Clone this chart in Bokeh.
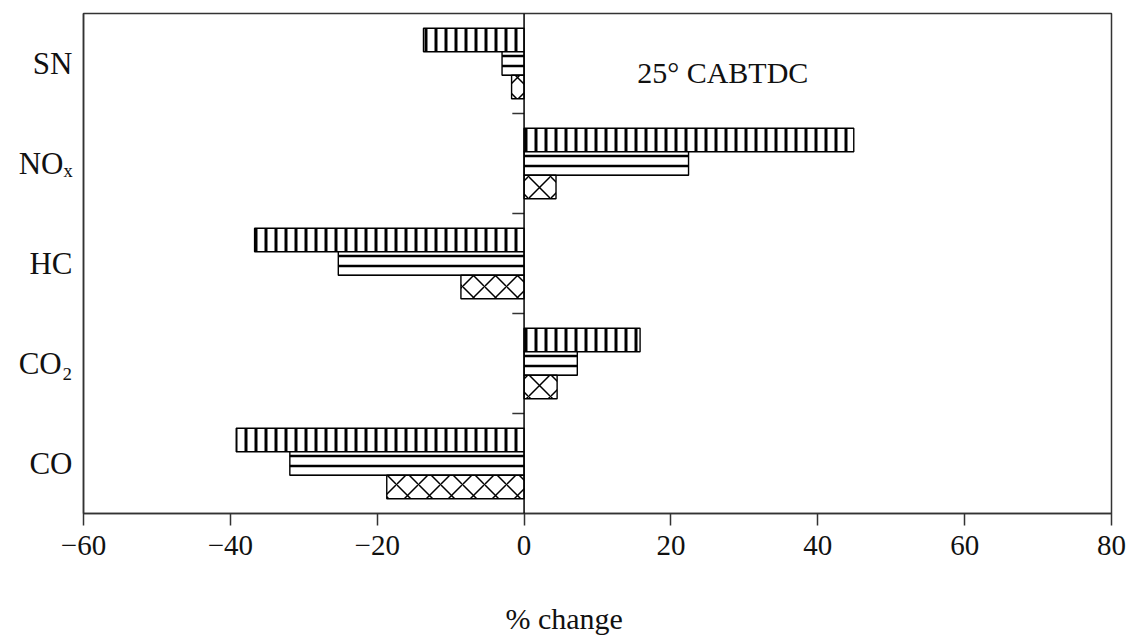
import numpy as np
from bokeh.plotting import figure
from bokeh.models import FixedTicker, Span, Label, Title
from bokeh.embed import file_html
from bokeh.resources import INLINE

# ---- data ----
categories = ["CO", "CO₂", "HC", "NOₓ", "SN"]
series_vertical = [-39.2, 15.8, -36.7, 44.9, -13.7]    # top bar of each group
series_horizontal = [-31.9, 7.25, -25.3, 22.4, -3.0]   # middle bar
series_cross = [-18.7, 4.5, -8.6, 4.35, -1.7]          # bottom bar
x_ticks = [-60, -40, -20, 0, 20, 40, 60, 80]
x_tick_labels = ["−60", "−40", "−20", "0", "20", "40", "60", "80"]
annotation_text = "25° CABTDC"
x_label = "% change"

FONT = "Liberation Serif"

pos = np.arange(len(categories)) + 0.5
bounds = np.arange(1, len(categories))

p = figure(width=1132, height=636, x_range=(-60, 80), y_range=(0, len(categories)),
           output_backend="svg", toolbar_location=None,
           min_border_left=83, min_border_right=21, min_border_top=13, min_border_bottom=123)
p.background_fill_color = "white"
p.border_fill_color = "white"
p.grid.visible = False
p.outline_line_color = "#333333"
p.outline_line_width = 1.5

bar_h = 0.235
common = dict(left=0, height=bar_h, fill_color="white", line_color="black",
              line_width=1.4, hatch_color="black")
p.hbar(y=pos + bar_h, right=series_vertical, hatch_pattern="vertical_line",
       hatch_scale=10, hatch_weight=3, **common)
p.hbar(y=pos, right=series_horizontal, hatch_pattern="horizontal_line",
       hatch_scale=10, hatch_weight=2.5, **common)
p.hbar(y=pos - bar_h, right=series_cross, hatch_pattern="diagonal_cross",
       hatch_scale=22, hatch_weight=1.5, **common)

# zero line and small category-boundary ticks on it
p.add_layout(Span(location=0, dimension="height", line_color="black", line_width=1.5))
p.segment(x0=-1.6, x1=0, y0=bounds, y1=bounds, line_color="#333333", line_width=1.5)

# x axis
xa = p.xaxis[0]
xa.ticker = FixedTicker(ticks=x_ticks)
xa.major_label_overrides = {t: l for t, l in zip(x_ticks, x_tick_labels)}
xa.minor_tick_line_color = None
xa.major_tick_in = 0
xa.major_tick_out = 12
xa.major_tick_line_width = 1.5
xa.major_tick_line_color = "#333333"
xa.axis_line_color = "#333333"
xa.axis_line_width = 1.5
xa.major_label_text_font = FONT
xa.major_label_text_font_size = "29px"
xa.major_label_text_color = "#111111"
xa.major_label_standoff = 10
# invisible spacer label: reserves the gap between tick labels and the axis title
xa.axis_label = " "
xa.axis_label_text_font_size = "1px"
xa.axis_label_standoff = 38

# y axis
ya = p.yaxis[0]
ya.ticker = FixedTicker(ticks=list(pos))
ya.major_label_overrides = {float(v): c for v, c in zip(pos, categories)}
ya.minor_tick_line_color = None
ya.major_tick_in = 0
ya.major_tick_out = 0
ya.axis_line_color = "#333333"
ya.axis_line_width = 1.5
ya.major_label_text_font = FONT
ya.major_label_text_font_size = "31px"
ya.major_label_text_color = "#111111"
ya.major_label_standoff = 11

p.add_layout(Label(x=15.4, y=4.41, text=annotation_text, text_font=FONT,
                   text_font_size="30px", text_color="#111111",
                   text_baseline="alphabetic"))

# x-axis title, placed below the axis slightly left of the frame centre
p.add_layout(Title(text=x_label, align="left", offset=422, standoff=0,
                   vertical_align="bottom",
                   text_font=FONT, text_font_size="30px", text_font_style="normal",
                   text_color="#111111"), "below")

open("out.html", "w").write(file_html(p, INLINE))
